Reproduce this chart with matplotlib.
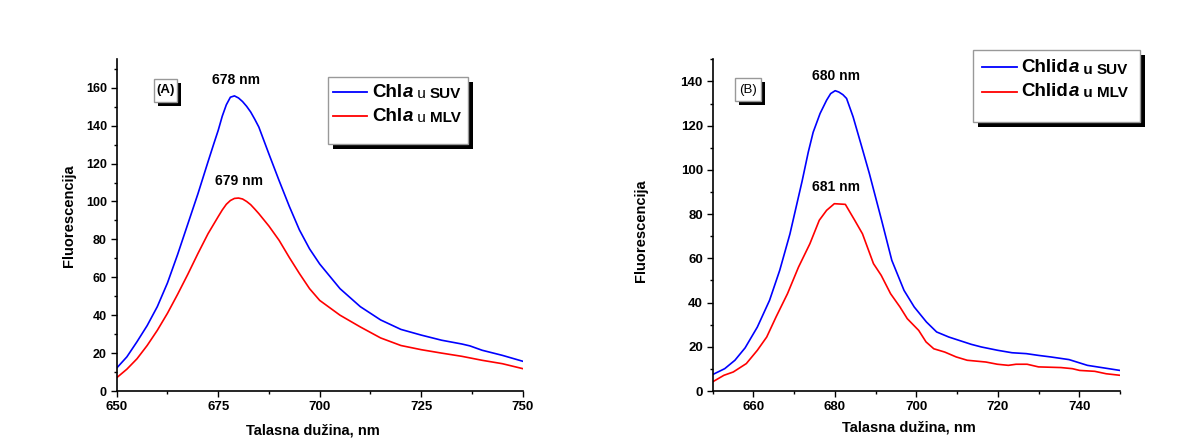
import matplotlib.pyplot as plt
from matplotlib.patches import Rectangle
from matplotlib.lines import Line2D
from matplotlib.ticker import MultipleLocator

plt.rcParams['font.family'] = ['Liberation Sans', 'DejaVu Sans']
plt.rcParams['font.weight'] = 'bold'

# (A) Chl a - fluorescence spectra
wl_a_suv = [650, 652.5, 655, 657.5, 660, 662.5, 665, 667.5, 670, 672.5, 674, 675, 676, 677, 678,
            679, 680, 681, 682, 683, 684, 685, 687.5, 690, 692.5, 695, 697.5, 700, 705, 710,
            715, 720, 725, 730, 735, 737, 740, 745, 750]
fl_a_suv = [12.1, 18, 26, 34.5, 44.5, 57, 72, 88, 104, 121, 131, 137.5, 145, 151, 155,
            155.7, 154.6, 152.7, 150.2, 147.2, 143.4, 139.3, 125, 111, 97.5, 85, 75, 67, 54, 44.5,
            37.5, 32.5, 29.5, 26.8, 24.8, 23.8, 21.5, 18.8, 15.7]
wl_a_mlv = [650, 652.5, 655, 657.5, 660, 662.5, 665, 667.5, 670, 672.5, 675, 676, 677, 678,
            679, 680, 681, 682, 683, 684, 685, 687.5, 690, 692.5, 695, 697.5, 700, 705, 710,
            715, 720, 725, 730, 735, 740, 745, 750]
fl_a_mlv = [7, 11.5, 17, 24, 32, 41, 51, 61.5, 72.5, 83, 92, 95.5, 98.5, 100.5,
            101.6, 101.8, 101.3, 100, 98.3, 96, 93.6, 87, 79.5, 70.5, 62, 54, 47.8, 40, 33.8,
            28, 24, 21.8, 20, 18.3, 16.2, 14.4, 11.8]

# (B) Chlid a - fluorescence spectra
wl_b_suv = [650, 653, 655.5, 658, 661, 664, 666.5, 669, 672, 673.5, 674.7, 676.4, 678, 679,
            680.1, 681, 682, 682.9, 684.5, 686.6, 688.5, 691.5, 694, 697, 699.5, 702.5, 705, 708,
            710.5, 713.5, 716, 720, 723.5, 727, 730, 733, 737.5, 742, 750]
fl_b_suv = [7.4, 10.1, 13.9, 19.5, 28.9, 41, 54.6, 71, 95, 108, 117, 125.5, 131.5, 134.5,
            135.8, 135.2, 134, 132.3, 124, 110.6, 98.3, 77.2, 59.1, 45.5, 38, 31.2, 26.7, 24.4,
            22.9, 21.1, 19.9, 18.4, 17.3, 16.9, 16.1, 15.4, 14.2, 11.6, 9.3]
wl_b_mlv = [650, 652.8, 655.1, 658.3, 661, 663.3, 665.6, 668.4, 671.1, 673.9, 676.2, 678,
            679.9, 682.6, 684.9, 686.8, 689.5, 691.4, 693.7, 696, 697.8, 700.6, 702.4, 704.3,
            707, 709.8, 712.5, 717.1, 719.9, 722.6, 724.5, 727.2, 730, 735.5, 738.3, 740.1,
            743.8, 746.6, 750]
fl_b_mlv = [4.1, 7.1, 8.6, 12.4, 18.4, 24.4, 33.5, 44, 56, 66.6, 77.2, 81.7,
            84.7, 84.4, 77.2, 71.1, 57.6, 52.3, 44, 38, 32.7, 27.4, 22.2, 19.1,
            17.6, 15.4, 13.9, 13.1, 12.1, 11.6, 12.1, 12.1, 10.9, 10.6, 10.1, 9.3,
            8.9, 7.8, 7.1]

W, H = 1187, 441
fig = plt.figure(figsize=(W / 100, H / 100), dpi=100)


def fx(px):
    return px / W


def fy(py):
    return 1 - py / H


def style_axes(ax, xmaj, xmin, ytick_size):
    for s in ['top', 'right']:
        ax.spines[s].set_visible(False)
    for s in ['left', 'bottom']:
        ax.spines[s].set_linewidth(1.2)
    ax.xaxis.set_major_locator(MultipleLocator(xmaj))
    ax.xaxis.set_minor_locator(MultipleLocator(xmin))
    ax.yaxis.set_major_locator(MultipleLocator(20))
    ax.yaxis.set_minor_locator(MultipleLocator(10))
    ax.tick_params(which='major', direction='out', length=4, width=1, pad=3)
    ax.tick_params(which='minor', direction='out', length=2.5, width=1)
    ax.tick_params(axis='x', labelsize=9.5)
    ax.tick_params(axis='y', labelsize=ytick_size)


def shadow_box(ax, x0, y0, x1, y1, off=5):
    # black drop shadow + white framed box, in figure pixels
    ax.add_patch(Rectangle((fx(x0 + off), fy(y1 + off)), (x1 - x0) / W, (y1 - y0) / H,
                           transform=fig.transFigure, fc='black', ec='none',
                           clip_on=False, zorder=5))
    ax.add_patch(Rectangle((fx(x0), fy(y1)), (x1 - x0) / W, (y1 - y0) / H,
                           transform=fig.transFigure, fc='white', ec='#999999', lw=1,
                           clip_on=False, zorder=6))


def tag_box(ax, x0, y0, x1, y1, text, weight):
    shadow_box(ax, x0, y0, x1, y1, off=4)
    ax.text(fx((x0 + x1) / 2), fy((y0 + y1) / 2), text, transform=fig.transFigure,
            fontsize=9.5, fontweight=weight, ha='center', va='center', zorder=7)


def rich_text(ax, x, y, pieces):
    prev = None
    for s, size, weight, style in pieces:
        if prev is None:
            prev = ax.annotate(s, xy=(fx(x), fy(y)), xycoords='figure fraction', fontsize=size,
                               fontweight=weight, fontstyle=style, va='bottom', ha='left',
                               annotation_clip=False, zorder=7)
        else:
            prev = ax.annotate(s, xy=(1, 0), xycoords=prev, fontsize=size, fontweight=weight,
                               fontstyle=style, va='bottom', ha='left',
                               annotation_clip=False, zorder=7)


def legend_box(ax, x0, y0, x1, y1, line_x0, line_x1, rows):
    shadow_box(ax, x0, y0, x1, y1, off=5)
    for color, ly, tx, ty, pieces in rows:
        ax.add_line(Line2D([fx(line_x0), fx(line_x1)], [fy(ly), fy(ly)], color=color, lw=1.3,
                           transform=fig.transFigure, clip_on=False, zorder=7))
        rich_text(ax, tx, ty, pieces)


# ---- panel A ----
ax1 = fig.add_axes([116.7 / W, 1 - 391 / H, 406 / W, (391 - 59.3) / H])
ax1.plot(wl_a_suv, fl_a_suv, color='#0000ff', lw=1.2)
ax1.plot(wl_a_mlv, fl_a_mlv, color='#ff0000', lw=1.2)
ax1.set_xlim(650, 750)
ax1.set_ylim(0, 175)
style_axes(ax1, 25, 12.5, 9)
ax1.set_xlabel('Talasna dužina, nm', fontsize=10.5, fontweight='bold', va='center')
ax1.set_ylabel('Fluorescencija', fontsize=10.5, fontweight='bold', va='center')
ax1.xaxis.set_label_coords(0.483, -0.12)
ax1.yaxis.set_label_coords(-0.117, 0.53)
ax1.text(679.4, 164, '678 nm', fontsize=10, fontweight='bold', ha='center', va='center')
ax1.text(680.2, 111, '679 nm', fontsize=10, fontweight='bold', ha='center', va='center')
tag_box(ax1, 154.3, 79.3, 176.7, 101.7, '(A)', 'bold')
legend_box(ax1, 327.7, 76.7, 467.7, 144, 333.3, 366.7, [
    ('#0000ff', 91.7, 372.3, 101.3, [('Chl', 13.5, 'bold', 'normal'), ('a', 13.5, 'bold', 'italic'),
                                   (' u ', 11, 'normal', 'normal'), ('SUV', 11, 'bold', 'normal')]),
    ('#ff0000', 116, 372.3, 125, [('Chl', 13.5, 'bold', 'normal'), ('a', 13.5, 'bold', 'italic'),
                                 (' u ', 11, 'normal', 'normal'), ('MLV', 11, 'bold', 'normal')]),
])

# ---- panel B ----
ax2 = fig.add_axes([712.5 / W, 1 - 391 / H, 407.5 / W, (391 - 59.3) / H])
ax2.plot(wl_b_suv, fl_b_suv, color='#0000ff', lw=1.2)
ax2.plot(wl_b_mlv, fl_b_mlv, color='#ff0000', lw=1.2)
ax2.set_xlim(650, 750)
ax2.set_ylim(0, 150)
style_axes(ax2, 20, 10, 9.5)
ax2.set_xlabel('Talasna dužina, nm', fontsize=10.5, fontweight='bold', va='center')
ax2.set_ylabel('Fluorescencija', fontsize=10.5, fontweight='bold', va='center')
ax2.xaxis.set_label_coords(0.482, -0.109)
ax2.yaxis.set_label_coords(-0.175, 0.483)
ax2.text(680.2, 142.3, '680 nm', fontsize=10, fontweight='bold', ha='center', va='center')
ax2.text(680.3, 92.2, '681 nm', fontsize=10, fontweight='bold', ha='center', va='center')
tag_box(ax2, 735, 78.3, 760.7, 100.7, '(B)', 'normal')
legend_box(ax2, 973.3, 50, 1140, 121.7, 981.7, 1017.3, [
    ('#0000ff', 66.7, 1021.7, 76.5, [('Chlid', 13.5, 'bold', 'normal'), ('a', 13.5, 'bold', 'italic'),
                                   (' u ', 11, 'bold', 'normal'), ('SUV', 11, 'bold', 'normal')]),
    ('#ff0000', 91.7, 1021.7, 100, [('Chlid', 13.5, 'bold', 'normal'), ('a', 13.5, 'bold', 'italic'),
                                   (' u ', 11, 'bold', 'normal'), ('MLV', 11, 'bold', 'normal')]),
])

fig.savefig('out.png', dpi=100)
